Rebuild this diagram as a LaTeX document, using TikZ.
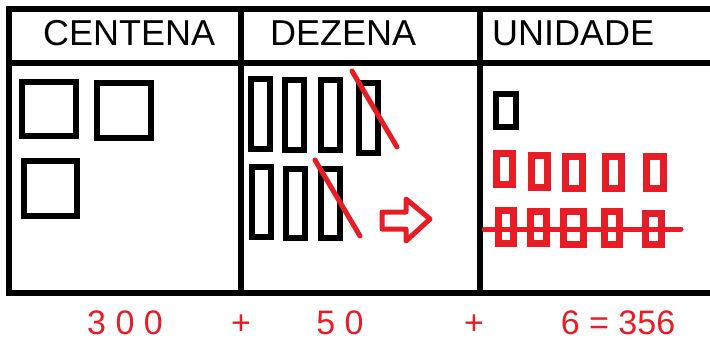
\documentclass[tikz,border=0pt]{standalone}
\usepackage{fontspec}
\setmainfont{Liberation Sans}
\definecolor{pred}{RGB}{232,28,36}
\begin{document}
\begin{tikzpicture}[x=1pt,y=-1pt,
  grid/.style={line width=6.5pt},
  blkbox/.style={draw=black,line width=6pt,inner sep=0pt,minimum width=#1},
  redbox/.style={draw=pred,line width=7pt,inner sep=0pt,minimum width=#1},
  redline/.style={draw=pred,line width=5pt,line cap=round},
  head/.style={inner sep=0pt,anchor=base west,font=\fontsize{36}{36}\selectfont},
  sumtxt/.style={inner sep=0pt,anchor=base,text depth=0pt,text=pred,font=\fontsize{34}{34}\selectfont}]
\useasboundingbox (0,0) rectangle (710,341);
% table
\draw[grid] (710,9) -- (9,9) -- (9,293) -- (710,293);
\draw[grid] (9,63) -- (710,63);
\draw[grid] (241,9) -- (241,293);
\draw[grid] (480,9) -- (480,295);
% headers
\node[head] (hc) at (43,45) {CENTENA};
\node[head] (hd) at (270,45) {DEZENA};
\node[head] (hu) at (492,45) {UNIDADE};
% centena
\node[blkbox=54pt,minimum height=54pt] (c1) at (49,109) {};
\node[blkbox=54pt,minimum height=55pt] (c2) at (124,110.5) {};
\node[blkbox=53pt,minimum height=55pt] (c3) at (50.5,188.5) {};
% dezena
\node[blkbox=19pt,minimum height=70pt] (d1) at (260.5,114) {};
\node[blkbox=19pt,minimum height=70pt] (d2) at (294.5,115) {};
\node[blkbox=19pt,minimum height=70pt] (d3) at (330.5,115) {};
\node[blkbox=19pt,minimum height=70pt] (d4) at (368.5,118) {};
\node[blkbox=19pt,minimum height=70pt] (d5) at (261.5,202) {};
\node[blkbox=19pt,minimum height=69pt] (d6) at (295.5,203.5) {};
\node[blkbox=19pt,minimum height=69pt] (d7) at (330.5,203.5) {};
\coordinate (s1a) at (352,71);
\coordinate (s1b) at (397,147);
\coordinate (s2a) at (315,160);
\coordinate (s2b) at (360,236);
\draw[redline] (s1a) -- (s1b);
\draw[redline] (s2a) -- (s2b);
% arrow
\draw[draw=pred,line width=5pt,line join=round]
  (382,212) -- (406,212) -- (406,199) -- (430,219) -- (406,241) -- (406,229) -- (382,229) -- cycle;
% unidade
\node[blkbox=20pt,minimum height=33pt] (u0) at (506,110.5) {};
\node[redbox=16pt,minimum height=31pt] (ua1) at (504.5,169) {};
\node[redbox=16pt,minimum height=32pt] (ua2) at (539.5,171.5) {};
\node[redbox=17pt,minimum height=32pt] (ua3) at (574,172.5) {};
\node[redbox=16pt,minimum height=32pt] (ua4) at (613.5,172.5) {};
\node[redbox=17pt,minimum height=32pt] (ua5) at (655,172.5) {};
\node[redbox=15pt,minimum height=33pt] (ub1) at (506,227) {};
\node[redbox=16pt,minimum height=32pt] (ub2) at (538.5,227.5) {};
\node[redbox=20pt,minimum height=33pt] (ub3) at (573.5,228) {};
\node[redbox=15pt,minimum height=33pt] (ub4) at (612,228) {};
\node[redbox=16pt,minimum height=31pt] (ub5) at (653.5,229) {};
\coordinate (x1) at (484,229);
\coordinate (x2) at (681,229);
\draw[redline] (x1) -- (x2);
% sums
\node[sumtxt] (t1) at (125,334) {3 0 0};
\node[sumtxt] (t2) at (241,334) {+};
\node[sumtxt] (t3) at (340,334) {5 0};
\node[sumtxt] (t4) at (474,334) {+};
\node[sumtxt] (t5) at (618,334) {6 = 356};
\end{tikzpicture}
\end{document}
